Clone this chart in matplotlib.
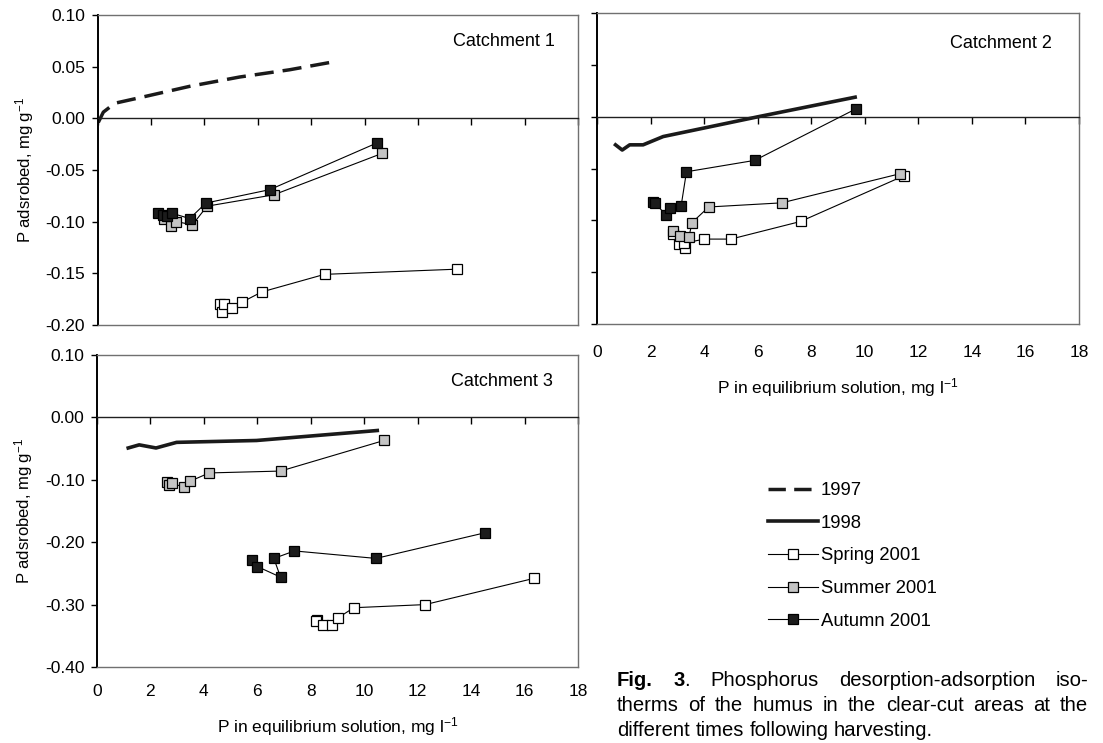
import matplotlib
matplotlib.use('Agg')
import matplotlib.pyplot as plt
from matplotlib.lines import Line2D

plt.rcParams['font.family'] = ['Liberation Sans', 'DejaVu Sans']
plt.rcParams['axes.unicode_minus'] = False
plt.rcParams['mathtext.fontset'] = 'custom'
plt.rcParams['mathtext.rm'] = 'Liberation Sans'
plt.rcParams['mathtext.default'] = 'regular'

# ---- data ----
# Catchment 1
c1_1997_x = [0.02, 0.21, 0.46, 0.71, 1.58, 3.45, 5.32, 7.19, 8.69]
c1_1997_y = [-0.004, 0.006, 0.011, 0.015, 0.020, 0.031, 0.040, 0.047, 0.054]
c1_spr_x = [4.6, 4.65, 4.75, 5.05, 5.4, 6.15, 8.5, 13.45]
c1_spr_y = [-0.180, -0.187, -0.180, -0.184, -0.178, -0.168, -0.151, -0.146]
c1_sum_x = [2.5, 2.75, 2.95, 3.55, 4.1, 6.6, 10.65]
c1_sum_y = [-0.097, -0.104, -0.100, -0.103, -0.085, -0.074, -0.034]
c1_aut_x = [2.25, 2.45, 2.6, 2.8, 3.45, 4.05, 6.45, 10.45]
c1_aut_y = [-0.092, -0.094, -0.095, -0.092, -0.097, -0.082, -0.069, -0.024]

# Catchment 2
c2_1998_x = [0.69, 0.94, 1.22, 1.72, 2.47, 5.99, 9.64]
c2_1998_y = [-0.027, -0.032, -0.027, -0.027, -0.019, 0.000, 0.019]
c2_spr_x = [2.85, 3.05, 3.3, 3.25, 4.0, 5.0, 7.6, 11.45]
c2_spr_y = [-0.113, -0.123, -0.127, -0.122, -0.118, -0.118, -0.101, -0.057]
c2_sum_x = [2.84, 3.1, 3.43, 3.55, 4.17, 6.9, 11.3]
c2_sum_y = [-0.110, -0.115, -0.116, -0.102, -0.087, -0.083, -0.055]
c2_aut_x = [2.1, 2.15, 2.59, 2.71, 3.14, 3.34, 5.89, 9.69]
c2_aut_y = [-0.082, -0.083, -0.095, -0.088, -0.086, -0.053, -0.042, 0.008]

# Catchment 3
c3_1998_x = [1.17, 1.58, 2.21, 2.98, 5.97, 10.49]
c3_1998_y = [-0.049, -0.044, -0.049, -0.040, -0.037, -0.021]
c3_spr_x = [8.22, 8.2, 8.47, 8.78, 9.03, 9.61, 12.28, 16.35]
c3_spr_y = [-0.324, -0.327, -0.332, -0.332, -0.321, -0.305, -0.300, -0.258]
c3_sum_x = [2.63, 2.7, 2.79, 3.25, 3.5, 4.2, 6.87, 10.74]
c3_sum_y = [-0.103, -0.108, -0.105, -0.112, -0.102, -0.089, -0.086, -0.037]
c3_aut_x = [5.80, 6.0, 6.87, 6.62, 7.39, 10.44, 14.51]
c3_aut_y = [-0.229, -0.239, -0.256, -0.226, -0.214, -0.226, -0.185]

x_ticks = list(range(0, 19, 2))
c12_yticks = [0.10, 0.05, 0.00, -0.05, -0.10, -0.15, -0.20]
c3_yticks = [0.10, 0.00, -0.10, -0.20, -0.30, -0.40]

spring_col = 'white'
summer_col = '#c4c4c4'
autumn_col = '#1c1c1c'

fig = plt.figure(figsize=(11.03, 7.43), dpi=100)
rect1 = [0.0886, 0.5626, 0.4354, 0.4172]
rect2 = [0.5413, 0.5639, 0.4369, 0.4182]
rect3 = [0.0879, 0.1023, 0.4361, 0.4199]
ax1 = fig.add_axes(rect1)
ax2 = fig.add_axes(rect2)
ax3 = fig.add_axes(rect3)


def style(ax, rect, yticks, ylab, xlab, xpad=16, lpad=9):
    ax.set_xlim(0, 18)
    ax.set_ylim(min(yticks), max(yticks))
    ax.set_yticks(yticks)
    if ylab:
        ax.set_yticklabels(['%.2f' % v for v in yticks])
        ax.set_ylabel('P adsrobed, mg g$^{-1}$', fontsize=12, labelpad=7)
    else:
        ax.set_yticklabels([])
    ax.tick_params(axis='y', direction='out', length=4, width=1, labelsize=12.5, pad=5)
    # x axis crosses at y = 0, tick marks hang down from it
    ax.spines['bottom'].set_position(('data', 0))
    ax.spines['bottom'].set_color('#202020')
    ax.spines['bottom'].set_linewidth(1.0)
    ax.set_xticks(x_ticks)
    ax.tick_params(axis='x', direction='out', length=5, width=1, labelbottom=False)
    for s in ['top', 'right']:
        ax.spines[s].set_color('#707070')
        ax.spines[s].set_linewidth(1.0)
    ax.spines['left'].set_color('black')
    ax.spines['left'].set_linewidth(1.4)

    # frame bottom and tick labels sit on an overlay axes
    base = fig.add_axes(rect)
    base.patch.set_visible(False)
    base.set_xlim(0, 18)
    base.set_yticks([])
    base.set_xticks(x_ticks)
    for s in ['left', 'top', 'right']:
        base.spines[s].set_visible(False)
    base.spines['bottom'].set_color('#707070')
    base.spines['bottom'].set_linewidth(1.0)
    base.tick_params(axis='x', length=0, pad=xpad, labelsize=12.5)
    if xlab:
        base.set_xlabel('P in equilibrium solution, mg l$^{-1}$', fontsize=12.5, labelpad=lpad)
    else:
        base.set_xticklabels([])


def season(ax, x, y, face):
    ax.plot(x, y, color='black', lw=0.8, marker='s', ms=7.5, mfc=face,
            mec='black', mew=0.9, zorder=3)


style(ax1, rect1, c12_yticks, True, False)
style(ax2, rect2, c12_yticks, False, True, xpad=15, lpad=12)
style(ax3, rect3, c3_yticks, True, True, xpad=12, lpad=12)

ax1.plot(c1_1997_x, c1_1997_y, color='#1a1a1a', lw=2.5, dashes=(5.5, 2.6))
season(ax1, c1_spr_x, c1_spr_y, spring_col)
season(ax1, c1_sum_x, c1_sum_y, summer_col)
season(ax1, c1_aut_x, c1_aut_y, autumn_col)

ax2.plot(c2_1998_x, c2_1998_y, color='#1a1a1a', lw=2.6)
season(ax2, c2_spr_x, c2_spr_y, spring_col)
season(ax2, c2_sum_x, c2_sum_y, summer_col)
season(ax2, c2_aut_x, c2_aut_y, autumn_col)

ax3.plot(c3_1998_x, c3_1998_y, color='#1a1a1a', lw=2.6)
season(ax3, c3_spr_x, c3_spr_y, spring_col)
season(ax3, c3_sum_x, c3_sum_y, summer_col)
season(ax3, c3_aut_x, c3_aut_y, autumn_col)

ax1.text(0.952, 0.915, 'Catchment 1', transform=ax1.transAxes, ha='right', va='center', fontsize=13)
ax2.text(0.944, 0.902, 'Catchment 2', transform=ax2.transAxes, ha='right', va='center', fontsize=13)
ax3.text(0.948, 0.915, 'Catchment 3', transform=ax3.transAxes, ha='right', va='center', fontsize=13)

# legend
handles = [
    Line2D([], [], color='#1a1a1a', lw=2.5, dashes=(5.0, 2.4)),
    Line2D([], [], color='#1a1a1a', lw=2.6),
    Line2D([], [], color='black', lw=0.8, marker='s', ms=7.5, mfc=spring_col, mec='black', mew=0.9),
    Line2D([], [], color='black', lw=0.8, marker='s', ms=7.5, mfc=summer_col, mec='black', mew=0.9),
    Line2D([], [], color='black', lw=0.8, marker='s', ms=7.5, mfc=autumn_col, mec='black', mew=0.9),
]
labels = ['1997', '1998', 'Spring 2001', 'Summer 2001', 'Autumn 2001']
fig.legend(handles, labels, loc='upper left', bbox_to_anchor=(768 / 1103, 1 - 482 / 743),
           frameon=False, fontsize=13.3, handlelength=2.7, handletextpad=0.15,
           labelspacing=0.85, borderpad=0, borderaxespad=0)

# caption, justified
renderer = fig.canvas.get_renderer()
cap_fs = 14


def width_px(s, wt, fs=None):
    t = fig.text(0, 0, s, fontsize=fs or cap_fs, weight=wt)
    w = t.get_window_extent(renderer).width
    t.remove()
    return w


line2_text = 'therms of the humus in the clear-cut areas at the'
line3_text = 'different times following harvesting.'
# size chosen so the last (unjustified) line has the width it has in the figure
cap_fs = 14 * 319 / width_px(line3_text, 'normal', 14)


def caption_line(tokens, x0, x1, ybase, justify=True):
    widths = [sum(width_px(s, wt) for s, wt in tok) for tok in tokens]
    space = width_px('a b', 'normal') - width_px('ab', 'normal')
    if justify and len(tokens) > 1:
        gap = (x1 - x0 - sum(widths)) / (len(tokens) - 1)
    else:
        gap = space
    x = x0
    for tok, w in zip(tokens, widths):
        xx = x
        for s, wt in tok:
            fig.text(xx / 1103, 1 - ybase / 743, s, fontsize=cap_fs, weight=wt,
                     ha='left', va='baseline')
            xx += width_px(s, wt)
        x += w + gap


line1 = [[('Fig.', 'bold')], [('3', 'bold'), ('.', 'normal')], [('Phosphorus', 'normal')],
         [('desorption-adsorption', 'normal')], [('iso-', 'normal')]]
line2 = [[(w, 'normal')] for w in line2_text.split()]
line3 = [[(w, 'normal')] for w in line3_text.split()]
caption_line(line1, 617, 1088, 686)
caption_line(line2, 617, 1088, 711)
caption_line(line3, 617, 1088, 736, justify=False)

fig.savefig('out.png', dpi=100)
